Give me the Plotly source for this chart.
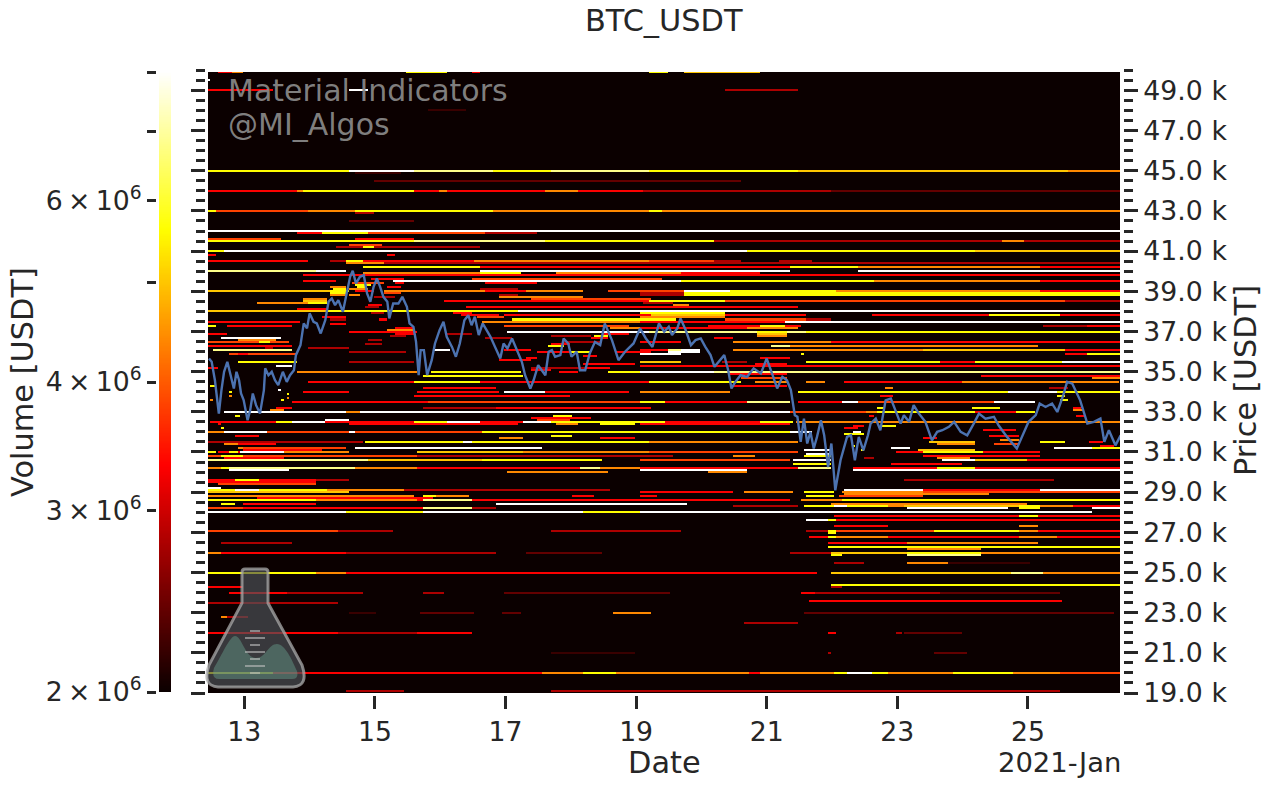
import numpy as np
import pandas as pd
import plotly.graph_objects as go

W, LY, Y, YO, O, RO, R, DR, VD, DD = 8.0, 6.8, 5.6, 5.0, 4.4, 3.8, 3.3, 2.8, 2.4, 2.2

levels_top = [
    (49900,12.6,12.8,R),(49900,12.8,13.0,O),(49900,15.5,16.1,Y),(49900,16.5,16.6,R),(49900,19.2,19.5,Y),(49900,19.73,20.9,YO),
    (49500,12.4,12.5,W),(49000,12.45,13.45,R),(49000,14.62,14.9,W),(49000,20.37,21.5,DR),
    (48000,15.8,16.4,DD),(46000,15.05,15.08,DR),
    (45000,12.4,14.6,Y),(45000,14.6,15.6,W),(45000,15.6,16.8,LY),(45000,16.8,17.7,Y),(45000,17.7,19.2,LY),(45000,19.2,21.5,Y),(45000,21.5,25.6,YO),(45000,25.6,26.5,O),
    (44900,14.7,15.4,DD),(44500,15.0,20.6,VD),
    (44000,12.4,13.8,R),(44000,13.8,13.9,O),(44000,13.9,15.6,Y),(44000,15.6,16.0,R),(44000,16.0,16.1,O),(44000,16.1,17.6,R),(44000,17.6,18.1,O),(44000,18.1,19.1,R),(44000,19.1,20.6,DR),(44000,20.6,22.0,DR),(44000,22.0,26.5,VD),
    (43000,12.4,12.55,Y),(43000,12.55,14.0,RO),(43000,14.0,14.7,O),(43000,14.7,16.8,Y),(43000,16.8,19.2,O),(43000,19.2,19.4,Y),(43000,19.4,26.5,O),
    (42900,14.7,15.0,DR),(42500,14.6,15.6,VD),
    (42000,12.4,26.5,W),
    (41900,13.8,14.2,R),(41900,14.2,14.9,Y),(41900,14.9,16.7,RO),(41900,16.7,17.5,DR),
    (41600,12.4,13.55,RO),(41600,14.7,15.6,R),
    (41500,12.4,15.6,Y),(41500,15.6,17.6,LY),(41500,17.6,20.2,Y),(41500,20.2,24.6,DR),(41500,24.6,24.95,O),(41500,24.95,26.5,DR),
    (41300,14.6,15.1,RO),(41200,14.4,14.8,DR),(41200,14.8,15.0,Y),(41200,15.0,16.6,DR),
    (41000,12.4,12.7,Y),(41000,12.7,20.7,W),(41000,20.7,24.2,Y),(41000,24.2,26.5,YO),
    (40800,12.45,12.58,R),(40800,15.2,15.33,R),
]

levels_upper = [
    (40500,12.4,14.0,R),(40500,14.3,14.57,DR),(40500,14.57,14.83,Y),(40500,14.83,16.53,R),(40500,16.53,19.2,O),(40500,19.2,20.17,RO),(40500,20.17,20.6,DR),(40500,21.2,21.67,DR),
    (40400,14.57,15.13,O),(40400,15.13,26.5,DR),
    (40200,14.83,16.6,Y),(40200,16.6,21.37,R),(40200,21.37,22.39,Y),(40200,22.39,25.19,O),(40200,25.19,26.5,R),
    (40000,12.4,14.1,LY),(40000,14.1,14.57,W),(40000,16.6,21.37,W),(40000,22.39,26.5,W),
    (39900,14.83,16.6,O),(39900,16.6,17.22,Y),(39900,17.78,19.7,O),(39900,19.7,20.9,R),
    (39800,13.9,26.5,R),(39600,16.5,19.4,RO),
    (39500,13.9,14.4,R),(39500,15.28,19.7,W),(39500,19.7,22.64,Y),(39500,22.64,25.19,O),(39500,25.19,26.5,R),
    (39000,12.4,14.3,YO),(39000,14.3,14.6,Y),(39000,15.13,18.2,O),(39000,18.55,19.71,RO),(39000,19.71,20.45,W),(39000,20.45,22.05,Y),(39000,22.05,25.19,O),(39000,25.19,26.5,R),
    (38900,19.07,19.71,DR),(38900,19.71,26.5,Y),(38800,19.07,19.71,DR),(38800,19.71,26.5,Y),(38700,16.9,18.19,O),
    (38500,13.9,14.26,YO),(38500,16.05,19.2,R),(38500,19.2,20.35,Y),(38500,20.35,25.58,RO),(38500,25.58,26.5,DR),
    (38400,13.2,14.26,O),
    (38000,12.4,14.26,YO),(38000,14.26,17.17,Y),(38000,17.17,26.5,W),
    (37800,19.07,21.62,YO),(37800,22.59,24.38,R),(37800,24.38,25.5,Y),(37800,25.5,26.5,R),
    (37500,12.4,13.85,R),(37500,16.66,19.2,O),(37500,19.07,21.29,R),(37500,21.29,26.5,W),
    (37300,12.45,12.58,Y),(37300,12.75,13.75,R),(37300,20.09,21.52,R),(37300,20.91,21.29,Y),(37300,25.24,25.91,DR),(37300,25.91,26.5,R),
    (37000,14.62,15.64,R),(37000,17.04,19.2,W),(37000,19.2,21.62,LY),(37000,21.62,26.5,Y),
    (36900,12.45,12.73,R),(36900,20.85,21.3,YO),
    (36700,12.66,13.55,W),(36700,20.2,20.5,R),
    (36500,12.4,13.7,RO),(36500,13.25,13.4,Y),(36500,19.07,19.7,R),(36500,20.5,21.98,O),(36500,21.98,26.5,R),
    (36300,12.4,13.75,R),(36300,17.63,17.9,Y),(36300,21.06,21.37,LY),(36300,21.37,25.14,O),
    (36100,12.53,13.75,LY),(36100,15.9,16.13,W),(36100,19.07,19.5,R),(36100,19.5,19.7,LY),(36100,19.7,19.99,W),(36100,20.5,23.4,O),(36100,23.4,25.58,YO),(36100,25.58,26.5,R),
    (35900,12.78,13.8,RO),(35900,19.07,19.7,W),(35900,21.52,21.57,Y),(35900,25.58,25.9,R),(35900,25.9,26.5,Y),
    (35500,12.89,13.8,Y),(35500,19.07,19.7,YO),(35500,21.62,23.66,Y),(35500,23.66,24.17,R),(35500,24.17,25.52,Y),(35500,25.52,26.5,W),
    (35300,13.5,13.75,W),(35300,19.07,26.5,R),
    (35000,13.8,15.64,O),(35000,15.84,17.22,Y),(35000,18.55,19.21,Y),(35000,19.07,20.17,W),(35000,20.17,26.5,LY),
    (34800,15.74,17.27,Y),(34800,24.27,26.5,R),(34800,25.9,26.5,O),
    (34500,14.0,15.6,R),(34500,15.6,16.6,Y),(34500,16.6,19.2,R),(34500,19.2,20.6,Y),(34500,21.6,21.9,O),(34500,22.2,24.0,R),(34500,24.0,26.4,O),
]

levels_smears = [
    (39200,14.3,14.55,O),(39100,14.35,14.57,Y),(38900,14.3,14.57,Y),(38800,14.3,14.57,O),(38650,13.91,14.26,O),(38400,14.0,14.26,Y),(38100,13.8,14.26,R),(37700,14.2,14.57,R),(37550,14.3,14.55,DR),(37400,14.33,14.55,R),
    (39400,14.65,15.13,RO),(39300,14.7,14.95,Y),(39200,14.75,14.85,Y),(39100,14.62,14.9,O),(39000,14.7,15.0,R),(38800,14.62,14.78,O),(38300,14.9,15.1,R),(38200,14.85,15.05,DR),(37900,14.95,15.15,DR),(37600,15.05,15.2,R),(37200,15.3,15.6,R),(37100,15.2,15.6,O),(36900,15.3,15.6,R),(36800,15.25,15.5,DR),(36550,14.9,15.1,DR),(36450,14.85,15.1,DR),
    (39650,14.95,15.3,R),(39600,15.13,15.45,R),(39400,15.3,15.45,R),(39250,15.2,15.4,R),(38900,15.15,15.4,RO),(38700,15.0,15.3,DR),
    (39350,16.7,17.5,R),(39100,16.6,17.2,DR),(38950,16.7,17.3,R),(38800,16.9,17.2,DR),(38650,17.4,19.21,RO),(38200,16.4,19.21,R),(37800,16.3,16.9,R),(37800,17.0,19.21,R),(37550,17.1,19.21,Y),(37300,17.0,18.9,RO),(37200,18.6,19.1,Y),(37150,18.6,19.1,O),(36850,17.7,18.3,DR),
    (36600,12.9,13.5,O),(36250,13.3,13.45,DR),(35900,12.9,13.05,R),(35150,12.45,12.6,R),
    (37900,19.07,20.35,Y),(37700,19.07,20.35,O),(37750,20.35,21.62,R),(37650,20.35,21.62,RO),(37600,21.62,22.0,DR),(38200,19.07,21.5,R),(38300,19.55,19.8,O),(38350,19.1,19.55,DR),
    (37200,19.07,20.7,R),(37200,20.7,21.5,O),(36950,20.85,21.3,Y),(36850,20.85,21.3,O),(35700,20.9,21.37,R),(35500,20.3,20.7,DR),(35400,20.8,21.3,R),(34900,20.45,21.3,R),(34700,20.6,21.3,RO),(34500,20.8,21.3,O),(34300,20.5,21.3,R),
    (36050,19.5,19.99,W),(34750,25.6,26.42,R),(34700,26.0,26.42,O),(34250,25.3,25.6,DR),
    (36200,14.0,14.6,DR),(35950,14.6,15.5,DR),(35500,14.6,15.6,DR),(35650,16.9,17.4,R),(35950,17.5,18.0,R),(35400,18.2,19.0,R),(36000,18.7,19.21,R),(36500,17.9,18.5,DR),
    (37900,16.2,16.5,R),(37700,16.55,17.0,RO),(36900,16.1,16.5,DR),(36700,16.7,17.1,DR),(35700,17.3,17.5,R),(36100,17.0,17.4,R),(35100,17.4,17.7,R),(35000,17.8,18.1,R),(35200,17.4,18.5,DR),
    (36400,17.7,18.0,R),(36000,18.0,18.3,Y),(35800,18.2,18.4,R),(35200,18.25,18.6,R),(36900,18.5,18.9,R),(36800,18.35,18.55,Y),(36700,18.3,18.55,R),(37550,19.07,19.6,Y),
]

levels_speckle = [
    (34300,12.5,12.56,Y),(33990,12.76,12.8,Y),(33750,12.79,12.83,O),(33600,12.48,12.52,O),(32830,12.84,12.93,Y),(32400,12.6,12.64,R),(32150,12.65,12.68,Y),(33900,13.63,13.67,Y),(34100,13.52,13.56,W),(33570,13.58,13.62,Y),(33700,13.66,13.7,O),(33200,13.5,13.72,R),(33100,13.4,13.6,O),
    (30900,22.17,22.2,W),(31300,22.33,22.36,Y),(31100,22.43,22.46,Y),(32000,22.33,22.43,W),(31900,22.2,22.5,Y),(32300,22.3,22.5,R),(32150,22.2,22.4,R),(30700,22.5,22.65,DR),
    (33000,22.54,22.7,O),(32800,22.55,22.65,R),(33750,22.75,22.95,R),(34150,22.8,22.95,O),(33200,22.7,22.8,Y),(32300,22.75,23.0,Y),
    (31500,23.5,24.2,YO),(31350,23.6,24.2,O),(31700,23.4,23.6,R),
    (33000,24.2,24.8,R),(33250,24.15,24.55,Y),(32100,24.3,24.8,R),(31800,24.4,24.85,R),(31600,24.55,24.85,O),(31450,24.5,24.85,RO),
    (33800,25.45,25.55,Y),(33650,25.5,25.6,Y),(33250,25.7,25.8,R),(33100,25.68,25.85,O),(32800,25.75,25.85,R),(31500,25.95,26.15,R),(31200,26.0,26.42,Y),(31300,26.1,26.3,R),
]

levels_middle = [
    (34000,13.9,14.6,R),(34000,15.64,16.9,R),(34000,17.0,17.6,W),(34000,17.6,18.9,R),(34000,19.07,20.45,O),(34000,21.47,24.68,Y),(34000,24.68,25.45,W),(34000,25.45,26.42,Y),
    (33500,13.75,15.8,R),(33500,15.8,19.21,RO),(33500,19.07,19.45,Y),(33500,19.45,20.7,R),(33500,20.7,21.37,LY),(33500,21.47,22.13,R),(33500,22.13,22.39,W),(33500,22.39,24.48,RO),(33500,24.48,25.12,W),
    (33250,17.1,17.4,O),(33250,17.7,17.9,R),(33150,15.74,16.87,DR),(33150,16.87,19.21,R),(33800,15.6,18.0,R),(34150,15.74,16.87,R),
    (33000,12.7,14.57,W),(33000,14.57,14.78,O),(33000,14.78,21.37,W),(33000,21.37,22.54,RO),(33000,22.54,25.12,Y),
    (32800,17.72,18.04,Y),(32700,17.4,18.3,R),(32600,17.5,18.0,RO),
    (32600,14.21,14.62,W),
    (32500,12.48,13.5,R),(32500,13.5,13.75,Y),(32500,13.75,14.21,W),(32500,14.21,15.59,R),(32500,15.59,16.1,Y),(32500,16.1,16.6,W),(32500,16.6,17.27,R),(32500,17.27,17.68,W),(32500,17.68,19.2,Y),(32500,19.07,19.45,Y),(32500,19.45,20.9,R),(32500,20.9,21.4,Y),(32500,21.45,26.42,O),
    (32400,14.62,17.17,R),(32400,17.78,18.04,O),(32400,18.45,18.96,Y),(32400,19.07,21.37,R),(32350,17.9,18.1,O),
    (32000,12.45,12.7,O),(32000,12.7,13.35,W),(32000,13.35,16.66,RO),(32000,16.66,19.2,Y),(32000,19.2,21.37,Y),(32000,21.37,21.7,W),(32000,14.62,14.7,W),
    (31850,12.84,13.24,R),(31850,17.7,18.04,Y),
    (31500,12.45,14.83,DR),(31500,14.87,16.35,Y),(31500,16.35,16.48,W),(31500,16.48,19.2,Y),(31500,19.2,21.5,O),(31500,25.19,25.55,Y),(31700,16.9,17.27,O),(31700,18.45,18.96,R),
    (31400,12.7,13.2,O),(31350,12.9,13.5,R),(31250,12.89,13.55,O),(31250,13.6,14.57,RO),(31200,13.0,13.6,RO),(31100,13.0,14.2,R),
    (31000,12.6,14.4,R),(30950,13.4,14.6,O),(30800,12.7,14.0,R),(30700,12.7,13.6,R),(30600,12.6,13.7,R),
    (31150,14.7,17.58,W),(31150,22.9,23.2,W),(31150,25.4,26.42,W),(31100,23.3,24.2,YO),(31000,23.0,24.2,O),(30950,23.0,25.2,R),
    (31100,21.55,21.98,W),(30900,21.6,22.0,W),(30750,21.55,22.0,Y),(30600,21.4,22.0,W),(30400,21.4,22.0,Y),(30250,21.4,22.0,LY),
    (31050,12.45,12.58,Y),(31050,12.78,12.9,Y),(31050,12.94,13.6,W),(31050,13.6,14.0,O),(31050,15.64,17.27,YO),(31050,17.27,19.2,O),(31050,19.2,21.5,RO),(31050,23.4,24.3,Y),
    (30850,12.45,15.64,RO),(30850,15.64,17.17,DR),(30850,17.17,19.58,DR),(30850,20.5,20.8,O),(30850,23.4,25.2,R),
    (30750,12.63,12.98,Y),(30700,23.6,24.1,O),
    (30550,12.45,14.9,LY),(30550,14.9,16.66,YO),(30550,16.66,18.5,Y),(30550,19.07,21.37,RO),(30550,23.7,24.2,W),(30550,24.2,25.0,YO),(30550,25.0,26.42,R),(30350,22.9,24.0,R),
    (30200,12.45,12.63,O),(30200,12.63,12.78,Y),(30200,12.78,14.7,LY),(30200,14.7,15.64,O),(30200,15.64,18.14,R),(30200,18.14,18.45,LY),(30200,18.45,19.2,O),(30200,19.07,21.5,R),(30200,22.3,26.42,R),(30150,23.6,24.17,Y),
    (30100,12.78,13.7,W),(30100,19.07,20.7,W),(30100,22.3,26.42,W),
    (29950,17.04,18.58,O),(29950,20.09,20.7,O),
    (29600,12.45,14.11,R),(29600,12.84,13.24,Y),(29600,14.11,14.62,DR),(29600,23.1,25.4,DR),(29500,12.45,14.1,R),(29400,12.6,14.1,RO),
    (29250,12.45,12.66,W),
    (29100,12.45,12.84,Y),(29100,12.84,13.24,W),(29100,13.24,14.26,Y),(29100,14.26,15.44,O),(29100,15.44,18.6,DR),(29100,22.2,23.4,W),(29100,23.4,25.2,R),(29100,25.2,26.42,W),
    (29000,12.45,14.62,YO),(29000,19.07,20.5,R),(29000,20.65,21.4,O),(29000,21.57,22.03,Y),(29000,22.13,23.4,O),(29000,23.4,26.42,RO),
    (28900,22.2,24.4,O),(28850,12.45,14.11,RO),(28850,15.74,15.95,Y),(28850,15.95,16.45,O),(28850,18.04,18.37,R),(28850,19.07,19.33,R),(28850,21.62,22.03,Y),(28800,12.45,15.6,O),(28800,22.1,23.0,R),(28750,22.1,23.4,RO),(28700,13.2,15.9,R),
    (28650,12.45,14.11,Y),(28650,14.11,15.64,O),(28650,15.64,16.15,R),(28650,22.1,24.2,O),
    (28550,12.45,13.3,Y),(28550,13.3,14.11,Y),(28550,14.11,15.64,O),(28550,15.74,16.48,LY),(28550,16.48,19.21,R),(28550,19.07,21.37,R),(28550,21.52,22.13,O),(28550,22.13,26.42,Y),
    (28450,12.63,12.84,Y),(28450,22.0,23.0,Y),(28450,23.0,24.5,RO),(28400,13.0,14.1,R),(28400,22.0,25.0,O),
    (28350,16.87,19.21,W),(28350,19.07,19.78,W),
    (28250,12.45,14.11,RO),(28250,14.11,15.74,R),(28250,15.74,16.48,LY),(28250,16.48,16.87,DR),(28300,20.5,21.47,DR),(28300,21.57,22.03,Y),(28300,22.03,22.23,W),(28300,22.23,22.85,Y),(28300,22.85,23.1,O),(28300,23.1,24.84,YO),(28300,24.84,25.17,Y),(28300,25.17,25.7,O),(28300,25.7,26.42,R),(28200,13.0,14.1,R),
    (28150,23.13,24.7,W),(28150,24.84,25.17,Y),(28150,25.96,26.42,W),
    (28050,12.45,14.57,W),(28050,14.57,15.74,Y),(28050,15.74,18.2,W),(28050,18.2,19.21,Y),(28050,19.07,25.96,W),
]

levels_lower = [
    (27850,22.03,26.42,R),(27850,24.84,25.14,Y),
    (27650,21.6,26.42,W),
    (27550,21.95,22.08,Y),(27550,22.08,26.42,R),
    (27270,22.03,22.85,R),(27270,24.84,25.14,O),
    (27070,12.45,14.42,RO),(27070,14.42,15.28,DR),(27070,17.7,19.21,DR),(27070,19.07,19.68,DR),(27070,21.62,21.95,DR),(27070,21.95,22.08,Y),(27070,22.08,23.55,RO),(27070,23.55,24.84,Y),(27070,24.84,25.14,O),(27070,25.14,26.42,R),
    (26950,21.95,22.08,Y),(26850,21.65,21.95,R),(26850,21.95,22.08,Y),(26850,22.08,22.85,O),(26850,22.85,24.84,R),(26850,24.84,25.45,O),(26850,25.45,26.42,R),
    (26750,21.95,22.08,Y),
    (26500,12.63,13.75,DR),(26500,21.95,23.15,R),(26500,23.15,25.14,O),
    (26320,21.95,26.42,Y),
    (26150,23.15,24.27,O),(26050,23.15,24.27,O),
    (26000,12.45,12.63,O),(26000,12.63,14.57,R),(26000,14.57,16.87,DR),(26000,17.33,18.5,VD),(26000,21.37,22.0,DR),(26000,22.0,23.15,YO),(26000,23.15,24.27,Y),(26000,24.27,26.42,O),
    (25920,23.15,24.27,LY),(25920,22.0,22.13,Y),
    (25520,22.03,22.5,DR),(25520,23.15,24.27,O),(25520,23.76,25.04,DD),
    (25030,12.45,14.11,Y),(25030,14.11,14.57,O),(25030,14.57,14.8,R),(25030,14.8,14.83,Y),(25030,14.83,19.21,R),(25030,19.07,21.77,R),(25030,22.0,24.72,YO),(25030,24.72,25.24,LY),(25030,25.24,26.42,O),
    (24430,22.0,26.42,Y),
    (24310,12.45,12.97,R),(24310,22.0,22.15,DR),
    (24010,12.78,13.63,R),(24010,13.63,14.83,DR),(24010,15.74,16.05,DR),(24010,16.97,19.21,VD),(24010,19.07,19.53,VD),(24010,21.52,21.75,R),(24010,21.75,23.66,DR),(24010,23.66,25.5,VD),
    (23610,21.65,25.52,R),
    (23510,12.45,14.45,DR),
    (23030,14.62,15.03,DD),(23030,15.7,16.53,VD),(23030,16.94,17.22,VD),(23030,18.65,19.21,O),(23030,19.07,19.2,O),(23030,21.57,26.32,VD),
    (22850,12.63,12.71,O),(22850,12.71,13.08,DR),
    (22520,20.66,21.5,DR),
    (22020,12.45,14.45,R),(22020,14.45,15.64,DR),(22020,15.64,16.48,R),(22020,21.95,22.08,R),(22020,23.0,23.05,DR),(22020,23.1,23.96,VD),
    (21030,17.68,18.96,DD),(21030,21.93,22.0,DR),(21030,23.56,24.07,VD),
    (20030,12.45,13.45,Y),(20030,13.45,17.58,R),(20030,17.58,18.19,O),(20030,18.19,18.7,Y),(20030,18.7,19.21,O),(20030,19.07,20.75,O),(20030,20.75,20.91,R),(20030,20.91,22.03,O),(20030,22.03,22.23,Y),(20030,22.23,22.59,W),(20030,22.59,22.87,Y),(20030,22.87,23.87,O),(20030,23.87,24.78,Y),(20030,24.78,25.5,O),(20030,25.5,26.42,RO),
    (19100,14.57,15.42,DR),(19100,17.7,19.21,DR),(19100,19.07,25.5,DR),
]

price_days = [12.46,12.50,12.55,12.61,12.65,12.69,12.74,12.80,12.84,12.88,12.92,12.95,12.99,13.05,13.09,13.13,13.18,13.24,13.30,13.32,13.37,13.42,13.47,13.52,13.59,13.65,13.70,13.76,13.79,13.86,13.91,13.96,14.00,14.06,14.11,14.17,14.24,14.29,14.34,14.39,14.44,14.51,14.57,14.62,14.66,14.71,14.77,14.83,14.88,14.93,14.98,15.03,15.08,15.13,15.19,15.22,15.28,15.36,15.42,15.49,15.53,15.59,15.63,15.67,15.70,15.75,15.80,15.87,15.92,15.99,16.05,16.10,16.18,16.24,16.30,16.37,16.43,16.48,16.53,16.59,16.65,16.71,16.77,16.84,16.92,16.97,17.03,17.10,17.17,17.25,17.30,17.38,17.43,17.50,17.61,17.66,17.71,17.76,17.84,17.89,17.96,18.01,18.09,18.14,18.22,18.29,18.37,18.45,18.52,18.63,18.73,18.83,18.96,19.06,
19.15,19.25,19.35,19.43,19.50,19.55,19.63,19.68,19.76,19.84,19.91,19.99,20.06,20.14,20.20,20.27,20.35,20.41,20.46,20.52,20.60,20.70,20.80,20.91,21.00,21.09,21.16,21.24,21.31,21.37,
21.39,21.43,21.47,21.52,21.57,21.62,21.67,21.72,21.77,21.83,21.88,21.94,21.99,22.05,22.13,22.23,22.29,22.35,22.41,22.48,22.55,22.59,22.67,22.74,22.82,22.90,22.97,23.05,23.10,23.18,23.25,23.33,23.43,23.53,23.61,23.69,23.79,23.87,23.97,24.07,24.17,24.25,24.35,24.48,24.55,24.68,24.83,24.91,25.01,25.12,25.18,25.27,25.37,25.45,25.54,25.60,25.68,25.80,25.91,26.01,26.11,26.17,26.24,26.34,26.42]
price_usdt = [35650,35490,34570,32910,34080,34990,35490,34740,34160,34990,34570,33910,33580,32580,33080,33910,33330,32910,34080,35160,34820,34990,34570,34330,34990,34490,34820,35070,35820,36320,37400,37150,37900,37480,37400,36900,37560,38480,38640,38310,38560,37980,38890,39720,40020,39390,39720,39800,38890,38480,39220,39640,39220,38720,38480,37650,38390,38390,38720,38230,37400,37230,36480,34820,36070,36070,34820,35570,36400,37060,37480,36730,36230,35740,36400,37560,37810,37310,37730,36820,37400,37060,36730,36230,35650,36400,36150,36650,36150,35490,34820,34160,34570,35320,34820,35990,36070,35740,35820,36650,36400,35740,35990,35070,35070,35900,36480,36320,37400,36570,35570,35990,36400,37150,
36650,36230,37400,36980,37230,36820,37150,37650,37060,36320,36570,36650,36230,35820,35240,35490,35820,35070,34160,34490,34820,34740,35160,34910,35650,34820,34160,34740,34570,34080,
33570,32830,32750,31500,32660,31420,32000,31170,31750,32580,31830,30250,31420,29090,30590,31750,31830,30590,31750,31080,31830,32410,32660,32080,33570,33660,33080,32410,32830,32500,33330,32910,32500,31580,32000,32080,32250,32500,32000,31830,32410,32910,32660,32750,32330,31750,31170,31750,32500,32830,33410,33240,33410,32990,33820,34490,34400,33570,32410,32500,32660,31500,32080,31330,31830]

day_ticks = [13,15,17,19,21,23,25]
price_ticks = list(range(19000,50000,2000))
price_tick_labels = [f"{p/1000:.1f}\u2004k" for p in price_ticks]
minor_price_ticks = [p for p in range(19000,50500,500) if p not in price_ticks]
volume_ticks = [2e6,3e6,4e6,5e6,6e6,7e6,8e6]
volume_tick_labels = [f"{m}\u2009×\u200910<sup>6</sup>" if m else "" for m in (2,3,4,0,6,0,0)]

def to_date(d):
    return pd.Timestamp("2021-01-01") + pd.to_timedelta(d - 1, unit="D")

hours = pd.date_range("2021-01-12 10:00","2021-01-26 11:00",freq="h")
hour_days = np.array([(h - pd.Timestamp("2021-01-01")) / pd.Timedelta(days=1) + 1 for h in hours])
rows = np.arange(19000,50000,100)
grid = np.full((len(rows),len(hours)),1.5e6)
for group in (levels_top,levels_upper,levels_smears,levels_middle,levels_speckle,levels_lower):
    for p,a,b,v in group:
        grid[int(round((p-19000)/100)), (hour_days>=a)&(hour_days<b)] = v*1e6

hot = [[0,"#0b0000"],[0.365079,"#ff0000"],[0.746032,"#ffff00"],[1,"#ffffff"]]
VMIN,VMAX = np.log10(2e6),np.log10(8e6)
INK="#262626"
FONT=dict(family="DejaVu Sans",size=26.7,color=INK)
BIG=dict(family="DejaVu Sans",size=30.4,color=INK)
W_PX,H_PX=1270,788
fx=lambda px:px/W_PX
fy=lambda py:1-py/H_PX
SPEC=dict(showgrid=False,zeroline=False,showline=False)

fig=go.Figure()
fig.add_trace(go.Heatmap(x=hours,y=rows,z=np.log10(grid),colorscale=hot,zmin=VMIN,zmax=VMAX,showscale=False,hoverinfo="skip",xaxis="x",yaxis="y"))
fig.add_trace(go.Scatter(x=[to_date(d) for d in price_days],y=price_usdt,mode="lines",line=dict(color="#4c72b0",width=2.4),xaxis="x",yaxis="y2",showlegend=False))
bar_vals=np.geomspace(2e6,8e6,256)
fig.add_trace(go.Heatmap(x=[0],y=bar_vals,z=np.log10(bar_vals).reshape(-1,1),colorscale=hot,zmin=VMIN,zmax=VMAX,showscale=False,hoverinfo="skip",xaxis="x3",yaxis="y3"))

minor=dict(ticks="outside",ticklen=9,tickwidth=3,tickcolor=INK,tickmode="array",tickvals=minor_price_ticks,showgrid=False)
fig.update_layout(
    width=W_PX,height=H_PX,margin=dict(l=0,r=0,t=0,b=0,autoexpand=False),paper_bgcolor="white",plot_bgcolor="white",font=FONT,showlegend=False,
    xaxis=dict(domain=[fx(208),fx(1120)],range=[to_date(12.444),to_date(26.41)],type="date",anchor="free",position=fy(695),
               ticks="outside",ticklen=13,tickwidth=3,tickcolor=INK,tickmode="array",tickvals=[to_date(d) for d in day_ticks],ticktext=[str(d) for d in day_ticks],tickfont=FONT,**SPEC),
    yaxis=dict(domain=[fy(693),fy(70.3)],range=[19000,50000],anchor="free",position=fx(205),side="left",
               ticks="outside",ticklen=14,tickwidth=3,tickcolor=INK,tickmode="array",tickvals=price_ticks,showticklabels=False,minor=minor,**SPEC),
    yaxis2=dict(domain=[fy(693),fy(70.3)],range=[19000,50000],anchor="free",position=fx(1123),side="right",overlaying="y",
               ticks="outside",ticklen=14,tickwidth=3,tickcolor=INK,tickmode="array",tickvals=price_ticks,ticktext=price_tick_labels,tickfont=FONT,minor=minor,**SPEC),
    xaxis3=dict(domain=[fx(159),fx(171)],range=[-0.5,0.5],anchor="y3",visible=False,fixedrange=True),
    yaxis3=dict(domain=[fy(692),fy(72)],type="log",range=[VMIN,VMAX],anchor="free",position=fx(156),side="left",
               ticks="outside",ticklen=9,tickwidth=3,tickcolor=INK,tickmode="array",tickvals=volume_ticks,ticktext=volume_tick_labels,tickfont=FONT,**SPEC),
)

notes=[("BTC_USDT",664,21,0,BIG),("Date",664,762,0,BIG),("2021-Jan",1059,762,0,dict(FONT,size=27.4)),("Volume [USDT]",22,382,-90,BIG),("Price [USDT]",1245,381,-90,BIG)]
annots=[dict(text=t,x=fx(x),y=fy(y),xref="paper",yref="paper",showarrow=False,textangle=a,xanchor="center",yanchor="middle",font=f) for t,x,y,a,f in notes]
GREY=dict(family="DejaVu Sans",size=30,color="rgba(135,135,135,0.95)")
annots+= [dict(text="Material Indicators",x=fx(226),y=fy(91),xref="paper",yref="paper",showarrow=False,xanchor="left",yanchor="middle",font=GREY),
          dict(text="@MI_Algos",x=fx(226),y=fy(124),xref="paper",yref="paper",showarrow=False,xanchor="left",yanchor="middle",font=GREY)]
fig.update_layout(annotations=annots)

flask=("M %f,%f "%(fx(242),fy(572))+"Q %f,%f %f,%f "%(fx(242),fy(569),fx(245),fy(569))+"L %f,%f "%(fx(265),fy(569))+"Q %f,%f %f,%f "%(fx(268),fy(569),fx(268),fy(572))
       +"L %f,%f "%(fx(268),fy(603))+"L %f,%f "%(fx(302),fy(665))+"Q %f,%f %f,%f "%(fx(309),fy(686),fx(293),fy(687))+"L %f,%f "%(fx(218),fy(687))+"Q %f,%f %f,%f "%(fx(202),fy(686),fx(209),fy(665))+"L %f,%f Z"%(fx(242),fy(603)))
hills=("M %f,%f "%(fx(214),fy(668))+"C %f,%f %f,%f %f,%f "%(fx(222),fy(655),fx(230),fy(636),fx(235),fy(636))+"C %f,%f %f,%f %f,%f "%(fx(242),fy(636),fx(245),fy(658),fx(256),fy(658))
       +"C %f,%f %f,%f %f,%f "%(fx(266),fy(658),fx(268),fy(644),fx(277),fy(644))+"C %f,%f %f,%f %f,%f "%(fx(285),fy(644),fx(292),fy(660),fx(297),fy(671))+"Q %f,%f %f,%f "%(fx(299),fy(679),fx(292),fy(679))+"L %f,%f "%(fx(219),fy(679))+"Q %f,%f %f,%f Z"%(fx(211),fy(679),fx(214),fy(668)))
shapes=[dict(type="rect",x0=fx(207),x1=fx(1121),y0=fy(69),y1=fy(72),xref="paper",yref="paper",fillcolor="white",line=dict(width=0)),
        dict(type="path",path=flask,xref="paper",yref="paper",fillcolor="rgba(78,82,88,0.68)",line=dict(color="rgba(170,170,170,0.75)",width=3)),
        dict(type="path",path=hills,xref="paper",yref="paper",fillcolor="rgba(105,160,140,0.45)",line=dict(width=0))]
for y,a,b in [(631,250,260),(638,245,265),(645,250,260),(652,245,265),(659,250,260),(666,245,265),(673,250,260)]:
    shapes.append(dict(type="line",x0=fx(a),x1=fx(b),y0=fy(y),y1=fy(y),xref="paper",yref="paper",line=dict(color="rgba(190,190,190,0.8)",width=1.5)))
fig.update_layout(shapes=shapes)
fig.write_html("out.html",config=dict(displayModeBar=False),post_script="document.body.style.margin='0';")
